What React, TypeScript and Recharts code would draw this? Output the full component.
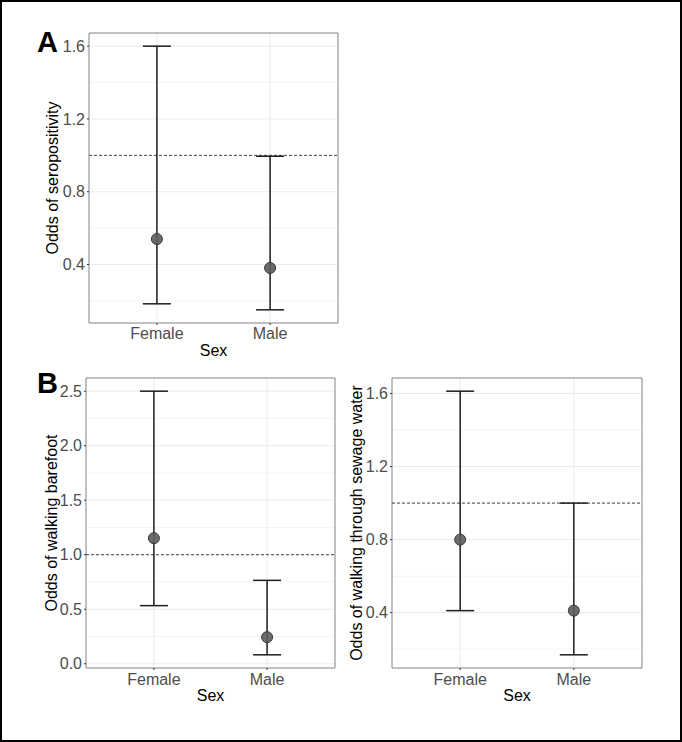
import React from 'react';
import {
  ComposedChart,
  Scatter,
  ErrorBar,
  XAxis,
  YAxis,
  CartesianGrid,
  ReferenceLine,
  ReferenceArea,
} from 'recharts';

const categories = ['Female', 'Male'];

// Panel A: odds of seropositivity
const seroEst = [0.54, 0.381];
const seroLow = [0.184, 0.151];
const seroHigh = [1.6, 0.995];
const seroTicks = [0.4, 0.8, 1.2, 1.6];
const seroMinor = [0.2, 0.6, 1.0, 1.4];

// Panel B (left): odds of walking barefoot
const barefootEst = [1.152, 0.244];
const barefootLow = [0.533, 0.082];
const barefootHigh = [2.5, 0.765];
const barefootTicks = [0, 0.5, 1, 1.5, 2, 2.5];
const barefootMinor = [0.25, 0.75, 1.25, 1.75, 2.25];

// Panel B (right): odds of walking through sewage water
const sewageEst = [0.8, 0.411];
const sewageLow = [0.411, 0.169];
const sewageHigh = [1.613, 1.0];
const sewageTicks = [0.4, 0.8, 1.2, 1.6];
const sewageMinor = [0.2, 0.6, 1.0, 1.4];

const FONT = '"Liberation Sans", Arial, sans-serif';
const GRID = '#ebebeb';
const MINOR = '#f4f4f4';
const BORDER = '#8c8c8c';
const TICK_TEXT = '#4d4d4d';

function buildRows(est: number[], low: number[], high: number[]) {
  return categories.map((name, i) => ({
    x: i + 1,
    name,
    est: est[i],
    err: [est[i] - low[i], high[i] - est[i]],
  }));
}

// ggplot-style 5% expansion of the data range
function expand(low: number[], high: number[]): [number, number] {
  const min = Math.min(...low);
  const max = Math.max(...high);
  const pad = (max - min) * 0.05;
  return [min - pad, max + pad];
}

const Dot = (props: any) => (
  <circle cx={props.cx} cy={props.cy} r={5.5} fill="#5c5c5c" fillOpacity={0.9} stroke="#383838" strokeWidth={1} />
);

interface PanelProps {
  rows: ReturnType<typeof buildRows>;
  domain: [number, number];
  ticks: number[];
  minor: number[];
  yLabel: string;
  left: number;
  top: number;
  width: number;
  height: number;
  margin: { top: number; right: number; bottom: number; left: number };
  yWidth: number;
  xTickMargin: number;
}

function Panel({ rows, domain, ticks, minor, yLabel, left, top, width, height, margin, yWidth, xTickMargin }: PanelProps) {
  return (
    <div style={{ position: 'absolute', left, top }}>
      <ComposedChart width={width} height={height} data={rows} margin={margin}>
        <CartesianGrid horizontalValues={minor} vertical={false} stroke={MINOR} strokeWidth={1} />
        <CartesianGrid stroke={GRID} strokeWidth={1} />
        <XAxis
          dataKey="x"
          type="number"
          domain={[0.4, 2.6]}
          ticks={[1, 2]}
          allowDataOverflow
          tickFormatter={(v: number) => categories[v - 1]}
          axisLine={false}
          tickLine={{ stroke: '#333' }}
          tickSize={2}
          tickMargin={xTickMargin}
          height={40}
          tick={{ fontSize: 16, fill: TICK_TEXT }}
          label={{ value: 'Sex', position: 'insideTop', offset: 22, fontSize: 16, fill: '#000' }}
        />
        <YAxis
          type="number"
          domain={domain}
          ticks={ticks}
          allowDataOverflow
          tickFormatter={(v: number) => v.toFixed(1)}
          axisLine={false}
          tickLine={{ stroke: '#333' }}
          tickSize={2}
          tickMargin={2}
          width={yWidth}
          tick={{ fontSize: 16, fill: TICK_TEXT }}
          label={{ value: yLabel, angle: -90, position: 'center', fontSize: 16, fill: '#000' }}
        />
        <ReferenceArea x1={0.4} x2={2.6} y1={domain[0]} y2={domain[1]} fill="none" stroke={BORDER} strokeWidth={1} />
        <ReferenceLine y={1} stroke="#444" strokeDasharray="3 2" strokeWidth={1} />
        <Scatter dataKey="est" shape={Dot} isAnimationActive={false}>
          <ErrorBar dataKey="err" direction="y" width={14} stroke="#1e1e1e" strokeWidth={1.5} isAnimationActive={false} />
        </Scatter>
      </ComposedChart>
    </div>
  );
}

export default function App() {
  return (
    <div style={{ position: 'absolute', left: 0, top: 0, width: 682, height: 742, background: '#fff', fontFamily: FONT }}>
      <Panel
        rows={buildRows(seroEst, seroLow, seroHigh)}
        domain={expand(seroLow, seroHigh)}
        ticks={seroTicks}
        minor={seroMinor}
        yLabel="Odds of seropositivity"
        left={0}
        top={0}
        width={350}
        height={365}
        margin={{ top: 33, right: 12, bottom: 2, left: 15 }}
        yWidth={74}
        xTickMargin={3}
      />
      <Panel
        rows={buildRows(barefootEst, barefootLow, barefootHigh)}
        domain={expand(barefootLow, barefootHigh)}
        ticks={barefootTicks}
        minor={barefootMinor}
        yLabel="Odds of walking barefoot"
        left={0}
        top={360}
        width={350}
        height={370}
        margin={{ top: 18, right: 15, bottom: 22, left: 16 }}
        yWidth={70}
        xTickMargin={4}
      />
      <Panel
        rows={buildRows(sewageEst, sewageLow, sewageHigh)}
        domain={expand(sewageLow, sewageHigh)}
        ticks={sewageTicks}
        minor={sewageMinor}
        yLabel="Odds of walking through sewage water"
        left={320}
        top={360}
        width={340}
        height={370}
        margin={{ top: 18, right: 18, bottom: 22, left: 1 }}
        yWidth={71}
        xTickMargin={4}
      />
      <div style={{ position: 'absolute', left: 37, top: 28, fontSize: 29, fontWeight: 'bold', lineHeight: 1 }}>A</div>
      <div style={{ position: 'absolute', left: 37, top: 369, fontSize: 29, fontWeight: 'bold', lineHeight: 1 }}>B</div>
      <div style={{ position: 'absolute', left: 0, top: 0, width: 682, height: 742, border: '2px solid #000', boxSizing: 'border-box', pointerEvents: 'none' }} />
    </div>
  );
}
